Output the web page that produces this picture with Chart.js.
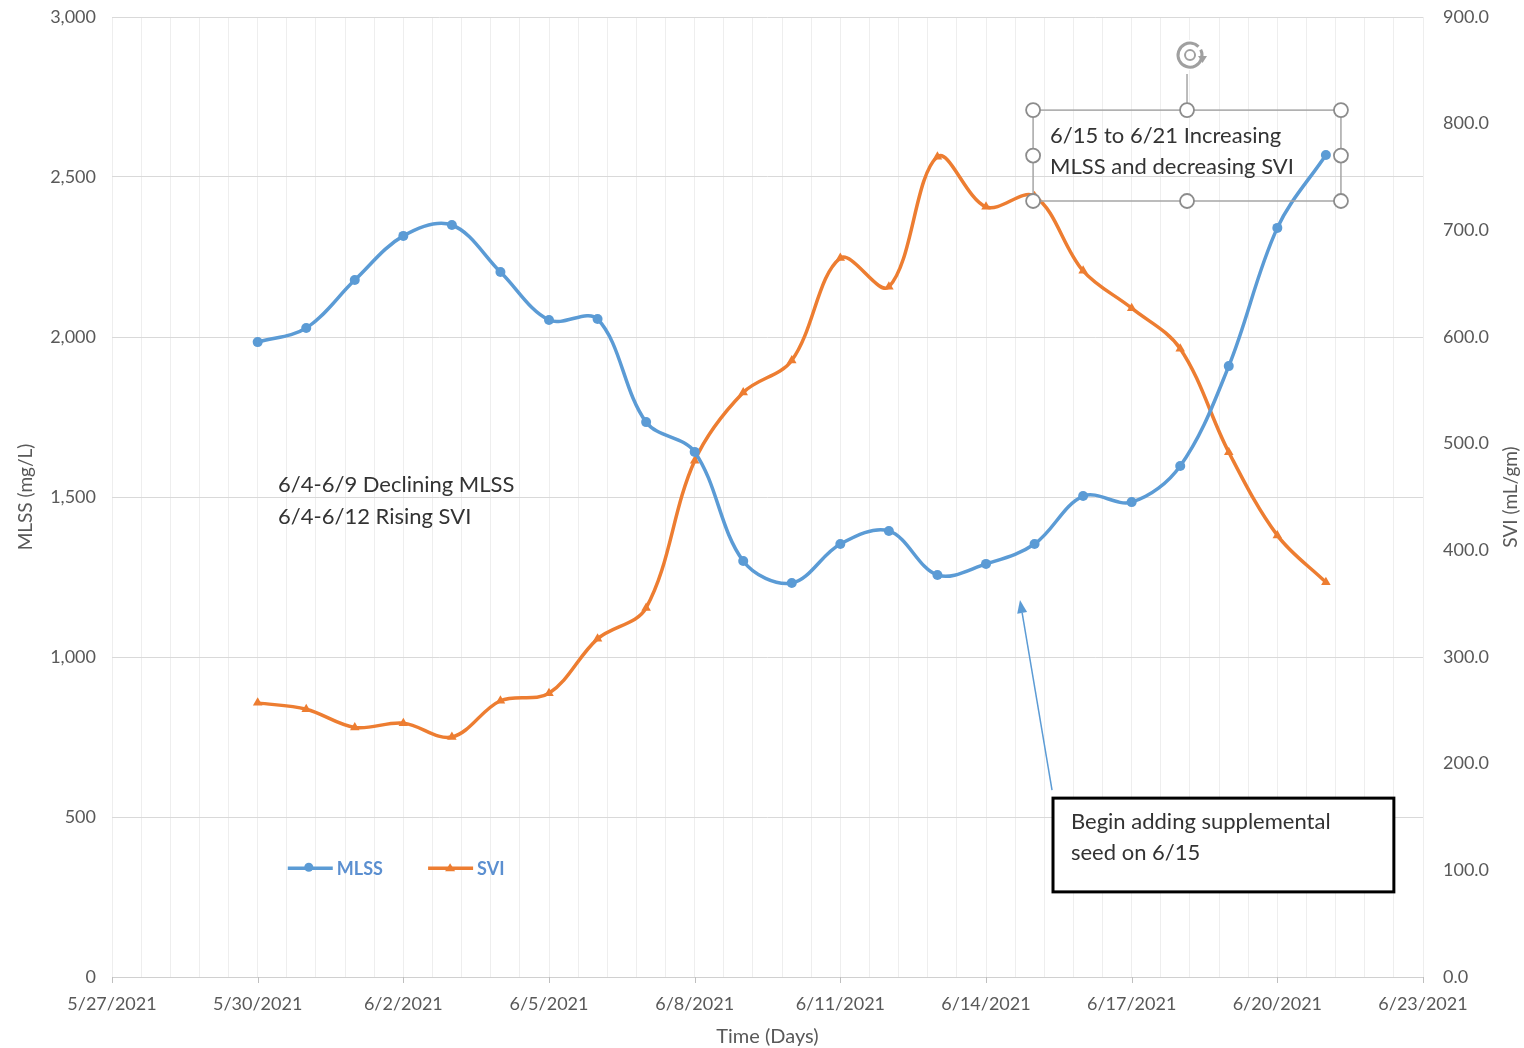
<!DOCTYPE html>
<html>
<head>
<meta charset="utf-8">
<script src="https://cdn.jsdelivr.net/npm/chart.js@4/dist/chart.umd.min.js"></script>
<style>
  html, body { margin: 0; padding: 0; background: #ffffff; }
  #wrap { position: relative; width: 1524px; height: 1048px; }
</style>
</head>
<body>
<div id="wrap"><canvas id="c"></canvas></div>
<script>
// ---- data ----
const dates = ['5/30/2021','5/31/2021','6/1/2021','6/2/2021','6/3/2021','6/4/2021','6/5/2021','6/6/2021',
  '6/7/2021','6/8/2021','6/9/2021','6/10/2021','6/11/2021','6/12/2021','6/13/2021','6/14/2021',
  '6/15/2021','6/16/2021','6/17/2021','6/18/2021','6/19/2021','6/20/2021','6/21/2021'];
const mlss = [1984, 2028, 2178, 2316, 2350, 2203, 2053, 2056, 1734, 1641, 1300, 1231,
  1353, 1394, 1256, 1291, 1353, 1503, 1484, 1597, 1909, 2341, 2569];
const svi = [257, 251, 234, 238, 225, 259, 266, 317, 346, 484, 548, 578,
  674, 647, 769, 722, 732, 662, 627, 589, 492, 414, 370];
const xTickLabels = ['5/27/2021','5/30/2021','6/2/2021','6/5/2021','6/8/2021','6/11/2021',
  '6/14/2021','6/17/2021','6/20/2021','6/23/2021'];
const seriesNames = ['MLSS', 'SVI'];
const startDate = '5/27/2021';
const endDate = '6/23/2021';

// ---- helpers ----
const DAY = 86400000;
const dayOf = s => Math.round((new Date(s) - new Date(startDate)) / DAY);
const xMax = dayOf(endDate);
const BLUE = '#5b9bd5', ORANGE = '#ed7d31';
const FONT = 'Lato, "Open Sans", sans-serif';
const GRAY = '#595959';

const mlssPts = dates.map((d, i) => ({ x: dayOf(d), y: mlss[i] }));
const sviPts = dates.map((d, i) => ({ x: dayOf(d), y: svi[i] }));

function arrow(ctx, x1, y1, x2, y2, color) {
  ctx.save();
  ctx.strokeStyle = color; ctx.fillStyle = color; ctx.lineWidth = 1.5;
  const a = Math.atan2(y2 - y1, x2 - x1);
  const L = 13, W = 5;
  const bx = x2 - L * Math.cos(a), by = y2 - L * Math.sin(a);
  ctx.beginPath(); ctx.moveTo(x1, y1); ctx.lineTo(bx, by); ctx.stroke();
  ctx.beginPath();
  ctx.moveTo(x2, y2);
  ctx.lineTo(bx + W * Math.sin(a), by - W * Math.cos(a));
  ctx.lineTo(bx - W * Math.sin(a), by + W * Math.cos(a));
  ctx.closePath(); ctx.fill();
  ctx.restore();
}

const decorations = {
  id: 'decorations',
  afterDraw(chart) {
    const ctx = chart.ctx;
    const xs = chart.scales.x, ys = chart.scales.y, ca = chart.chartArea;
    const px = v => xs.getPixelForValue(v);
    const py = v => ys.getPixelForValue(v);
    ctx.save();

    // major tick marks on x axis
    ctx.strokeStyle = '#bfbfbf'; ctx.lineWidth = 1;
    for (let i = 0; i < xTickLabels.length; i++) {
      const x = Math.round(px(i * 3)) + 0.5;
      ctx.beginPath(); ctx.moveTo(x, ca.bottom); ctx.lineTo(x, ca.bottom + 6); ctx.stroke();
    }

    // axis titles
    ctx.fillStyle = GRAY;
    ctx.font = '19px ' + FONT;
    ctx.textAlign = 'center'; ctx.textBaseline = 'middle';
    ctx.save(); ctx.translate(26, 497); ctx.rotate(-Math.PI / 2);
    ctx.fillText('MLSS (mg/L)', 0, 0); ctx.restore();
    ctx.save(); ctx.translate(1511, 497); ctx.rotate(-Math.PI / 2);
    ctx.fillText('SVI (mL/gm)', 0, 0); ctx.restore();
    ctx.font = '20px ' + FONT;
    ctx.fillText('Time (Days)', (ca.left + ca.right) / 2 + 0, 1037);

    // annotation 1
    ctx.fillStyle = '#333333';
    ctx.font = '22px ' + FONT;
    ctx.textAlign = 'left'; ctx.textBaseline = 'middle';
    ctx.fillText('6/4-6/9 Declining MLSS', px(3.42), py(1537));
    ctx.fillText('6/4-6/12 Rising SVI', px(3.42), py(1437));

    // selected text box
    const bx1 = px(18.97), bx2 = px(25.31), by1 = py(2709), by2 = py(2425);
    ctx.fillStyle = '#333333';
    ctx.fillText('6/15 to 6/21 Increasing', px(19.32), py(2628));
    ctx.fillText('MLSS and decreasing SVI', px(19.32), py(2531));
    ctx.strokeStyle = '#a6a6a6'; ctx.lineWidth = 1.5;
    ctx.strokeRect(bx1, by1, bx2 - bx1, by2 - by1);
    const mx = (bx1 + bx2) / 2, my = (by1 + by2) / 2;
    // rotate handle stem
    ctx.beginPath(); ctx.moveTo(mx, by1); ctx.lineTo(mx, by1 - 36); ctx.stroke();
    const handles = [[bx1, by1], [mx, by1], [bx2, by1], [bx1, my], [bx2, my], [bx1, by2], [mx, by2], [bx2, by2]];
    ctx.strokeStyle = '#8c8c8c'; ctx.lineWidth = 1.8; ctx.fillStyle = '#ffffff';
    handles.forEach(([hx, hy]) => {
      ctx.beginPath(); ctx.arc(hx, hy, 7, 0, Math.PI * 2); ctx.fill(); ctx.stroke();
    });
    // rotate icon
    const rx = mx + 3, ry = by1 - 55;
    ctx.fillStyle = '#ffffff';
    ctx.beginPath(); ctx.arc(rx, ry, 15, 0, Math.PI * 2); ctx.fill();
    ctx.strokeStyle = '#a0a0a0'; ctx.lineWidth = 3;
    ctx.beginPath(); ctx.arc(rx, ry, 12, -0.15 * Math.PI, 1.75 * Math.PI); ctx.stroke();
    ctx.lineWidth = 2;
    ctx.beginPath(); ctx.arc(rx, ry, 5, 0, Math.PI * 2); ctx.stroke();
    ctx.fillStyle = '#a0a0a0';
    ctx.beginPath();
    ctx.moveTo(rx + 8, ry + 1); ctx.lineTo(rx + 17, ry + 1); ctx.lineTo(rx + 12.5, ry + 8);
    ctx.closePath(); ctx.fill();

    // arrow and box
    arrow(ctx, px(19.36), py(584), px(18.7), py(1178), BLUE);
    const cx1 = px(19.38), cx2 = px(26.4), cy1 = py(559), cy2 = py(266);
    ctx.fillStyle = '#ffffff';
    ctx.fillRect(cx1, cy1, cx2 - cx1, cy2 - cy1);
    ctx.strokeStyle = '#000000'; ctx.lineWidth = 3;
    ctx.strokeRect(cx1, cy1, cx2 - cx1, cy2 - cy1);
    ctx.fillStyle = '#333333';
    ctx.font = '22px ' + FONT;
    ctx.fillText('Begin adding supplemental', px(19.75), py(484));
    ctx.fillText('seed on 6/15', px(19.75), py(388));

    // legend
    const ly = py(340);
    const items = [
      { x: px(3.62), color: BLUE, style: 'circle', label: seriesNames[0] },
      { x: px(6.51), color: ORANGE, style: 'triangle', label: seriesNames[1] }
    ];
    ctx.font = 'bold 18px ' + FONT;
    items.forEach(it => {
      ctx.strokeStyle = it.color; ctx.lineWidth = 3.5;
      ctx.beginPath(); ctx.moveTo(it.x, ly); ctx.lineTo(it.x + 45, ly); ctx.stroke();
      ctx.fillStyle = it.color;
      if (it.style === 'circle') {
        ctx.beginPath(); ctx.arc(it.x + 21, ly - 1, 4.5, 0, Math.PI * 2); ctx.fill();
      } else {
        ctx.beginPath(); ctx.moveTo(it.x + 22, ly - 5); ctx.lineTo(it.x + 27, ly + 3); ctx.lineTo(it.x + 17, ly + 3);
        ctx.closePath(); ctx.fill();
      }
      ctx.fillStyle = '#5b8fd0';
      ctx.textAlign = 'left';
      ctx.fillText(it.label, it.x + 49, ly + 1);
    });

    ctx.restore();
  }
};

new Chart(document.getElementById('c'), {
  type: 'line',
  data: {
    datasets: [
      {
        label: seriesNames[0], data: mlssPts, yAxisID: 'y',
        borderColor: BLUE, backgroundColor: BLUE, borderWidth: 3.5,
        tension: 0.35, pointStyle: 'circle', pointRadius: 5, pointBorderWidth: 0
      },
      {
        label: seriesNames[1], data: sviPts, yAxisID: 'y1',
        borderColor: ORANGE, backgroundColor: ORANGE, borderWidth: 3.5,
        tension: 0.35, pointStyle: 'triangle', pointRadius: 5.5, pointBorderWidth: 0
      }
    ]
  },
  options: {
    responsive: true,
    maintainAspectRatio: false,
    animation: false,
    layout: { padding: { top: 17, left: 0, right: 0, bottom: 0 } },
    plugins: { legend: { display: false }, tooltip: { enabled: false } },
    scales: {
      x: {
        type: 'linear', min: 0, max: xMax,
        afterBuildTicks: s => { const t = []; for (let i = 0; i <= xMax * 5 / 3; i++) t.push({ value: i * 3 / 5 }); s.ticks = t; },
        afterFit: s => { s.height = 71; s.paddingLeft = 0; s.paddingRight = 0; },
        ticks: {
          autoSkip: false, maxRotation: 0, minRotation: 0, padding: 16,
          color: GRAY, font: { family: FONT, size: 18 },
          callback: v => { const k = v / 3; return Math.abs(k - Math.round(k)) < 1e-6 ? xTickLabels[Math.round(k)] : ''; }
        },
        grid: { color: '#eeeeee', lineWidth: 1, drawTicks: false },
        border: { display: true, color: '#d0d0d0' }
      },
      y: {
        position: 'left', min: 0, max: 3000,
        afterFit: s => { s.width = 112; s.paddingTop = 0; s.paddingBottom = 0; },
        ticks: { stepSize: 500, padding: 16, color: GRAY, font: { family: FONT, size: 18 },
          callback: v => v.toLocaleString('en-US') },
        grid: { color: '#d9d9d9', lineWidth: 1, drawTicks: false },
        border: { display: false }
      },
      y1: {
        position: 'right', min: 0, max: 900,
        afterFit: s => { s.width = 101; s.paddingTop = 0; s.paddingBottom = 0; },
        ticks: { stepSize: 100, padding: 20, color: GRAY, font: { family: FONT, size: 18 },
          callback: v => v.toFixed(1) },
        grid: { drawOnChartArea: false, drawTicks: false },
        border: { display: false }
      }
    }
  },
  plugins: [decorations]
});
</script>
</body>
</html>
